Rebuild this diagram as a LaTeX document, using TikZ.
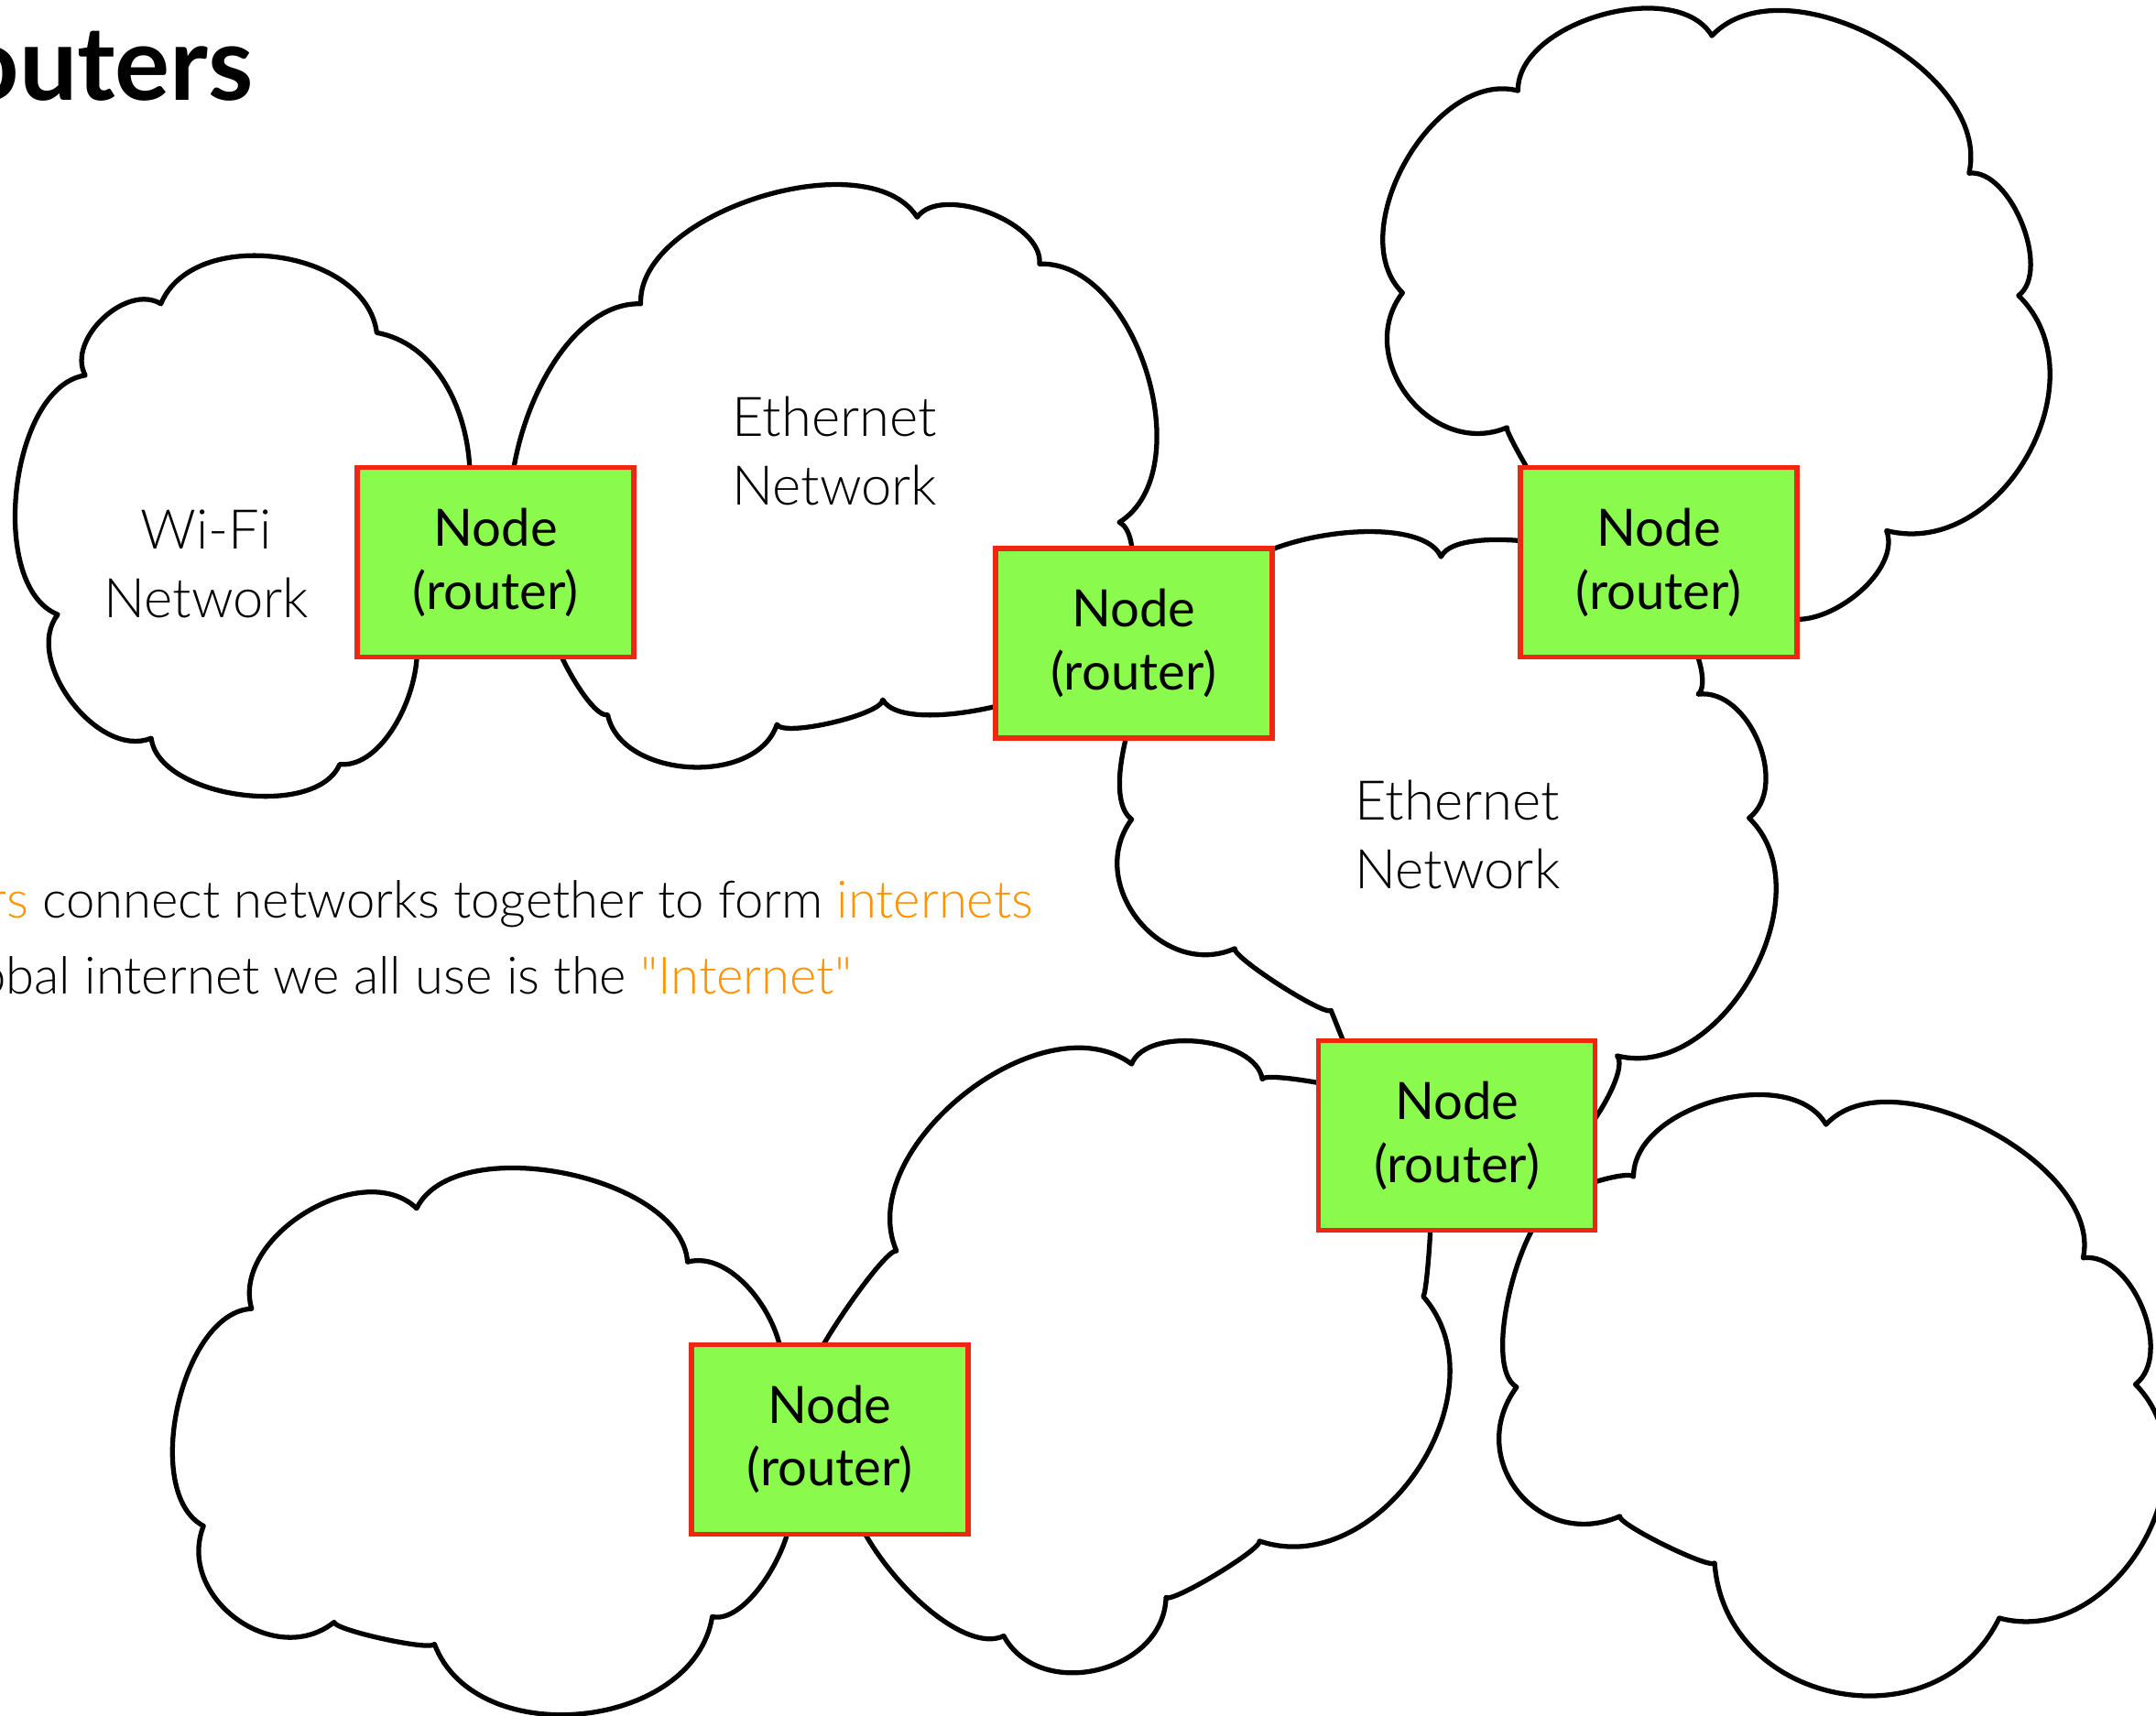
\documentclass[tikz,border=0pt]{standalone}
\usepackage{fontspec}
\setmainfont{Lato}
\newfontfamily\thinfont{Lato Light}
\usetikzlibrary{positioning}
\definecolor{nodegreen}{RGB}{138,250,77}
\definecolor{nodered}{RGB}{238,38,18}
\definecolor{keyorange}{RGB}{255,147,0}

\begin{document}
\begin{tikzpicture}[x = 0.15013mm, y = -0.15013mm,
    netcloud/.style = {draw, fill = white, line width = 1.5pt, line join = round},
    lobe/.style = {bend left = 75, looseness = #1},
    router/.style = {draw = nodered, fill = nodegreen, line width = 1.6pt, minimum width = 30.2mm, minimum height = 20.7mm, inner sep = 0pt, align = center, font = \fontsize{16}{19.6}\selectfont},
    netlabel/.style = {align = center, font = \thinfont\fontsize{17}{21.3}\selectfont},
    bodytext/.style = {anchor = base east, inner sep = 0pt, font = \thinfont\fontsize{16}{19}\selectfont}]
  \useasboundingbox (0,0) rectangle (1568,1248);

  % clouds
  \draw[netcloud] (62,273) to[lobe=0.99] (117,221) to[lobe=1.0] (274,242) to[lobe=1.06] (290,440) to[lobe=0.85] (247,556)
    to[lobe=0.81] (110,537) to[lobe=0.95] (42,447) to[lobe=0.81] (62,273) -- cycle;
  \draw[netcloud] (466,221) to[lobe=0.81] (667,158) to[lobe=0.81] (756,192) to[lobe=0.92] (814,380) to[lobe=0.6] (800,470)
    to[lobe=0.53] (642,509) to[lobe=0.35] (565,527) to[lobe=0.99] (442,520) to[lobe=0.4] (400,440) to[lobe=0.86] (466,221) -- cycle;
  \draw[netcloud] (890,430) to[lobe=0.63] (1048,405) to[lobe=0.5] (1200,430) to[lobe=0.53] (1235,505) to[lobe=0.99] (1272,595)
    to[lobe=1.02] (1176,768) to[lobe=0.45] (1120,850) -- (990,790) -- (968,735) to[lobe=0.2] (898,690) to[lobe=1.23] (823,596)
    to[lobe=0.56] (890,430) -- cycle;
  \draw[netcloud] (1104,66) to[lobe=0.88] (1245,26) to[lobe=0.92] (1432,126) to[lobe=0.81] (1468,215) to[lobe=1.13] (1372,386)
    to[lobe=0.88] (1290,445) -- (1150,400) to[lobe=0.1] (1096,311) to[lobe=1.23] (1020,213) to[lobe=0.95] (1104,66) -- cycle;
  \draw[netcloud] (652,910) to[lobe=0.95] (823,774) to[lobe=0.81] (918,785) to[lobe=0.2] (1000,800) -- (1040,870)
    to[lobe=0.1] (1035,943) to[lobe=1.1] (916,1121) to[lobe=0.2] (848,1162) to[lobe=1.16] (730,1190) to[lobe=0.67] (620,1060)
    -- (590,1000) to[lobe=0.2] (652,910) -- cycle;
  \draw[netcloud] (1140,870) to[lobe=0.3] (1188,856) to[lobe=0.92] (1328,818) to[lobe=0.85] (1515,915) to[lobe=0.92] (1553,1007)
    to[lobe=1.13] (1454,1177) to[lobe=1.27] (1247,1137) to[lobe=0.2] (1178,1103) to[lobe=1.37] (1103,1009) to[lobe=0.56] (1140,870) -- cycle;
  \draw[netcloud] (183,952) to[lobe=0.99] (303,879) to[lobe=0.81] (500,918) to[lobe=0.92] (560,1020) -- (570,1080)
    to[lobe=0.7] (518,1176) to[lobe=1.06] (316,1196) to[lobe=0.2] (243,1180) to[lobe=1.2] (148,1110) to[lobe=0.81] (183,952) -- cycle;

  % labels
  \node[netlabel] (wifi) at (150,410) {Wi-Fi\\Network};
  \node[netlabel] (etherA) at (607,328) {Ethernet\\Network};
  \node[netlabel] (etherB) at (1060,607) {Ethernet\\Network};

  \node[anchor = base east, inner sep = 0pt, font = \bfseries\fontsize{32}{38}\selectfont] (title) at (185,73) {outers};
  \node[bodytext] (lineA) at (752,668) {\textcolor{keyorange}{rs} connect networks together to form \textcolor{keyorange}{internets}};
  \node[bodytext] (lineB) at (620,723) {obal internet we all use is the \textcolor{keyorange}{"Internet"}};

  % routers
  \node[router] (wifigw) at (360.5,409) {Node\\(router)};
  \node[router] (ethergw) at (824.5,468) {Node\\(router)};
  \node[router] (uppergw) at (1206.5,409) {Node\\(router)};
  \node[router] (lowergw) at (1059.5,826) {Node\\(router)};
  \node[router] (leftgw) at (603.5,1047) {Node\\(router)};
\end{tikzpicture}
\end{document}
